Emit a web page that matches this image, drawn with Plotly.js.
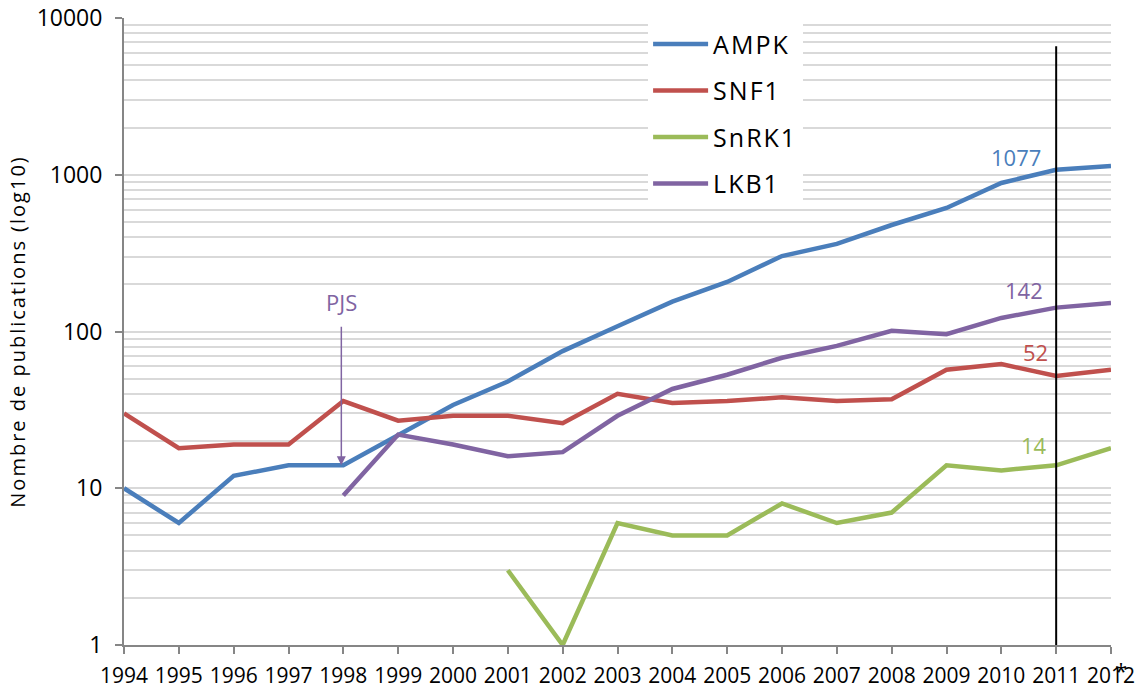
<!DOCTYPE html>
<html><head><meta charset="utf-8">
<script src="https://cdn.plot.ly/plotly-3.0.1.min.js"></script>
<style>body{margin:0;background:#fff}#chart{width:1137px;height:690px}
.ytitle{letter-spacing:2px}
.legendtext{letter-spacing:2px}</style>
</head><body><div id="chart"></div>
<script>
const years = ['1994','1995','1996','1997','1998','1999','2000','2001','2002','2003','2004','2005','2006','2007','2008','2009','2010','2011','2012'];
const ampk  = [10, 6, 12, 14, 14, 22, 34, 48, 75, 108, 155, 207, 303, 362, 478, 614, 886, 1077, 1137];
const snf1  = [30, 18, 19, 19, 36, 27, 29, 29, 26, 40, 35, 36, 38, 36, 37, 57, 62, 52, 57];
const snrk1 = [null, null, null, null, null, null, null, 3, 1, 6, 5, 5, 8, 6, 7, 14, 13, 14, 18];
const lkb1  = [null, null, null, null, 9, 22, 19, 16, 17, 29, 43, 53, 68, 81, 101, 96, 122, 142, 152];
const seriesNames = ['AMPK', 'SNF1', 'SnRK1', 'LKB1'];
const colors = ['#4a7ebb', '#c0504d', '#9bbb59', '#8064a2'];
const yTickVals = [1, 10, 100, 1000, 10000];
const yTickText = ['1', '10', '100', '1000', '10000'];
const markYear = '2011';
const arrowYear = '1998';
const arrowValue = 14;

const font = 'Open Sans, Lato, sans-serif';
const data = [ampk, snf1, snrk1, lkb1].map((vals, i) => ({
  x: years, y: vals, type: 'scatter', mode: 'lines', name: seriesNames[i],
  legendgroup: 'g' + i,
  line: {color: colors[i], width: 4.5}, connectgaps: false
}));

const idx = years.indexOf(markYear);
const labelShifts = [[-40, 13], [-21, 24], [-22, 20], [-32, 18]];
const annotations = [ampk, snf1, snrk1, lkb1].map((vals, i) => ({
  x: idx, y: Math.log10(vals[idx]), xref: 'x', yref: 'y',
  text: String(vals[idx]), showarrow: false,
  xanchor: 'center', yanchor: 'middle',
  xshift: labelShifts[i][0], yshift: labelShifts[i][1],
  font: {family: font, size: 22, color: colors[i]}
}));
const aIdx = years.indexOf(arrowYear);
annotations.push({
  x: aIdx, y: Math.log10(arrowValue), xref: 'x', yref: 'y', text: '',
  showarrow: true, arrowhead: 2, arrowsize: 1.2, arrowwidth: 1.5,
  arrowcolor: '#8064a2', ax: 0, ay: -140, xshift: -2
});
annotations.push({
  x: aIdx, y: Math.log10(arrowValue), xref: 'x', yref: 'y', text: 'PJS',
  showarrow: false, xanchor: 'center', yanchor: 'middle', yshift: 163, xshift: -2,
  font: {family: font, size: 22, color: '#8064a2'}
});
annotations.push({
  x: years.length - 1, y: 0, xref: 'x', yref: 'paper', text: '*',
  showarrow: false, xanchor: 'center', yanchor: 'middle', xshift: 10, yshift: -25,
  font: {family: font, size: 22, color: '#000'}
});

const layout = {
  width: 1137, height: 690,
  margin: {l: 124, r: 26, t: 18, b: 45},
  paper_bgcolor: '#fff', plot_bgcolor: '#fff',
  font: {family: font, color: '#000'},
  showlegend: true,
  legend: {x: 0.531, y: 0.995, xanchor: 'left', yanchor: 'top', bgcolor: '#fff',
    borderwidth: 0, font: {family: font, size: 25, color: '#000'},
    tracegroupgap: 11, itemwidth: 55},
  xaxis: {
    type: 'category', range: [0, years.length - 1],
    showgrid: false, zeroline: false,
    showline: true, linecolor: '#868686', linewidth: 2,
    ticks: 'outside', ticklen: 7, tickcolor: '#868686', tickwidth: 2,
    ticklabelstandoff: 4,
    tickfont: {family: font, size: 21, color: '#000'}
  },
  yaxis: {
    type: 'log', range: [0, 4],
    tickvals: yTickVals, ticktext: yTickText,
    showgrid: true, gridcolor: '#d9d9d9', gridwidth: 2,
    minor: {dtick: 'D1', showgrid: true, gridcolor: '#d9d9d9', gridwidth: 2},
    showline: true, linecolor: '#868686', linewidth: 2,
    ticks: 'outside', ticklen: 7, tickcolor: '#868686', tickwidth: 2,
    ticklabelstandoff: 8,
    tickfont: {family: font, size: 23, color: '#000'},
    title: {text: 'Nombre de publications (log10)', font: {family: font, size: 20, color: '#000'}, standoff: 6}
  },
  shapes: [{
    type: 'line', xref: 'x', yref: 'paper', x0: idx, x1: idx, y0: 0, y1: 0.955,
    line: {color: '#000', width: 2}
  }],
  annotations: annotations
};
Plotly.newPlot('chart', data, layout, {staticPlot: true});
</script></body></html>
